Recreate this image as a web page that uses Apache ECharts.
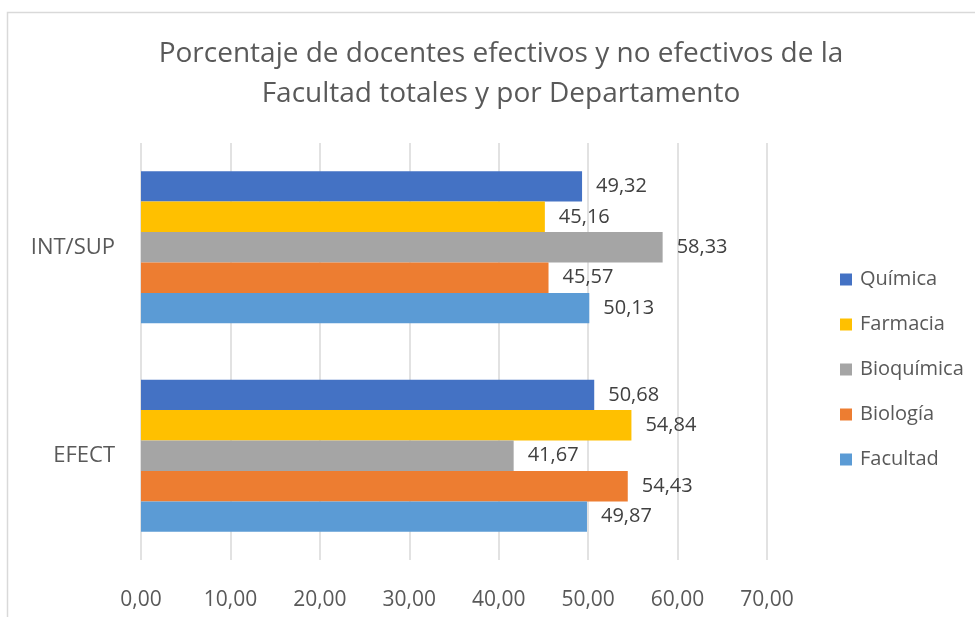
<!DOCTYPE html>
<html>
<head>
<meta charset="utf-8">
<script src="https://cdn.jsdelivr.net/npm/echarts@6/dist/echarts.min.js"></script>
<style>
  html, body { margin: 0; padding: 0; background: #fff; }
  #chart { width: 975px; height: 617px; }
</style>
</head>
<body>
<div id="chart"></div>
<script>
// categories, bottom to top
const categories = ['EFECT', 'INT/SUP'];
const seriesNames = ['Química', 'Farmacia', 'Bioquímica', 'Biología', 'Facultad'];

const quimica = [50.68, 49.32];
const farmacia = [54.84, 45.16];
const bioquimica = [41.67, 58.33];
const biologia = [54.43, 45.57];
const facultad = [49.87, 50.13];

const seriesValues = [quimica, farmacia, bioquimica, biologia, facultad];
const seriesColors = ['#4472C4', '#FFC000', '#A5A5A5', '#ED7D31', '#5B9BD5'];

const fontFam = '"Open Sans", "Liberation Sans", sans-serif';
const fmt = v => v.toFixed(2).replace('.', ',');

const chart = echarts.init(document.getElementById('chart'));
chart.setOption({
  animation: false,
  textStyle: { fontFamily: fontFam },
  title: {
    text: 'Porcentaje de docentes efectivos y no efectivos de la\nFacultad totales y por Departamento',
    left: 496,
    textAlign: 'center',
    top: 29,
    textStyle: { color: '#595959', fontSize: 28, fontWeight: 'normal', lineHeight: 40, fontFamily: fontFam }
  },
  graphic: [{
    type: 'rect',
    shape: { x: 7.5, y: 12.5, width: 1200, height: 900 },
    style: { fill: 'none', stroke: '#d9d9d9', lineWidth: 1.5 },
    silent: true
  }],
  legend: {
    orient: 'vertical',
    left: 835,
    top: 264,
    data: seriesNames,
    icon: 'rect',
    itemWidth: 12,
    itemHeight: 12,
    itemGap: 24,
    textStyle: { color: '#595959', fontSize: 20, lineHeight: 21, padding: [0, 0, 0, 3], fontFamily: fontFam }
  },
  grid: { left: 141, right: 208, top: 143, bottom: 57 },
  xAxis: {
    type: 'value',
    min: 0,
    max: 70,
    interval: 10,
    axisLine: { show: false },
    axisTick: { show: false },
    axisLabel: { formatter: v => fmt(v), color: '#595959', fontSize: 21, margin: 30 },
    splitLine: { show: true, lineStyle: { color: '#d9d9d9', width: 1.5 } }
  },
  yAxis: {
    type: 'category',
    data: categories,
    axisLine: { show: false },
    axisTick: { show: false },
    axisLabel: { color: '#595959', fontSize: 22, margin: 26 }
  },
  series: seriesNames.map((name, i) => ({
    name: name,
    type: 'bar',
    data: seriesValues[i],
    barGap: '0%',
    barCategoryGap: '27%',
    itemStyle: { color: seriesColors[i] },
    label: {
      show: true,
      position: 'right',
      distance: 14,
      color: '#404040',
      fontSize: 20,
      formatter: p => fmt(p.value)
    }
  }))
});
</script>
</body>
</html>
